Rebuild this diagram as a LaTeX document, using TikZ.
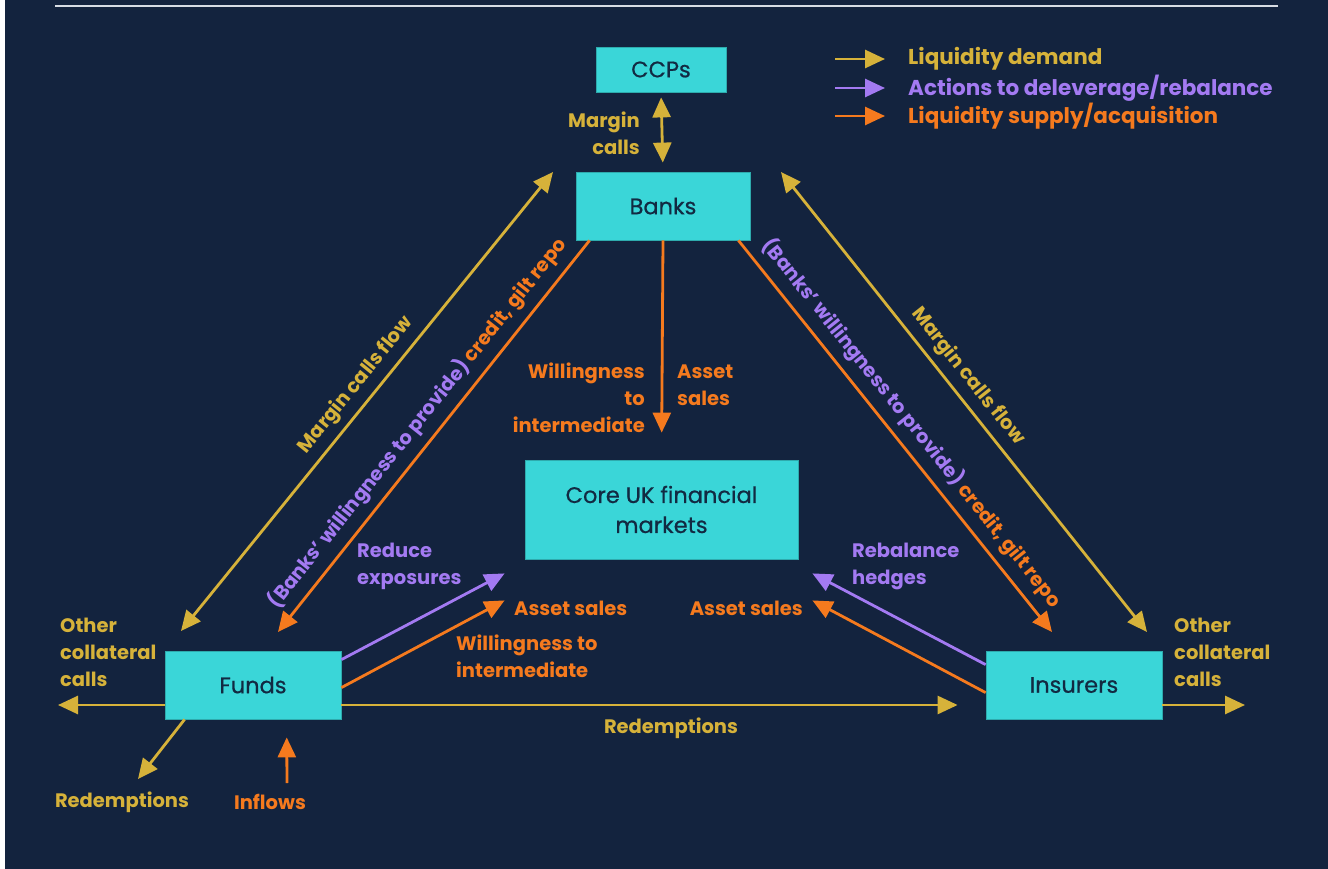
\documentclass[tikz,border=0pt]{standalone}
\usepackage{fontspec}
\setmainfont{Poppins}
\newfontfamily\boxfont[FakeBold=0.6]{Poppins}
\usetikzlibrary{arrows.meta,calc}
\definecolor{bg}{RGB}{19,35,62}
\definecolor{gold}{RGB}{214,178,58}
\definecolor{purp}{RGB}{163,122,242}
\definecolor{orng}{RGB}{245,122,30}
\definecolor{cyanbox}{RGB}{58,214,216}
\definecolor{boxtxt}{RGB}{18,42,66}
\definecolor{rule}{RGB}{215,220,228}
\begin{document}
\begin{tikzpicture}[x=1pt,y=-1pt,
  box/.style={fill=cyanbox, draw=cyanbox!80!black, line width=0.8pt, inner sep=0pt,
    text=boxtxt, font=\boxfont\fontsize{22.5}{30}\selectfont, align=center},
  arr/.style={line width=2.8pt, -{Triangle[length=20pt,width=18pt]}},
  dbl/.style={line width=2.8pt, {Triangle[length=20pt,width=18pt]}-{Triangle[length=20pt,width=18pt]}},
  lbl/.style={font=\bfseries\fontsize{19.5}{27}\selectfont, inner sep=0pt},
  leg/.style={font=\bfseries\fontsize{21.5}{26}\selectfont, inner sep=0pt, anchor=west},
]
\useasboundingbox (0,0) rectangle (1328,869);
\fill[bg] (0,0) rectangle (1328,869);
\fill[white] (0,0) rectangle (5,869);
\draw[rule, line width=2.5pt] (55,6) -- (1278,6);

% boxes
\node[box, minimum width=130pt, minimum height=45pt] (ccp) at (661,69.5) {CCPs};
\node[box, minimum width=174pt, minimum height=68pt] (banks) at (663,206) {Banks};
\node[box, minimum width=273pt, minimum height=99pt] (core) at (661.5,509.5) {Core UK financial\\markets};
\node[box, minimum width=176pt, minimum height=68pt] (funds) at (253,685) {Funds};
\node[box, minimum width=176pt, minimum height=68pt] (ins) at (1074,685) {Insurers};

% free ends
\coordinate (lyTop) at (553,172);
\coordinate (lyBot) at (181,631);
\coordinate (ryTop) at (781,172);
\coordinate (ryBot) at (1147,632);
\coordinate (loEnd) at (278,632);
\coordinate (roEnd) at (1052,632);
\coordinate (flEnd) at (58,705);
\coordinate (irEnd) at (1245,705);
\coordinate (fdEnd) at (138,779);
\coordinate (infStart) at (287,783);

% legend
\coordinate (lg1a) at (835,59);  \coordinate (lg1b) at (885,59);
\coordinate (lg2a) at (835,88);  \coordinate (lg2b) at (885,88);
\coordinate (lg3a) at (835,116); \coordinate (lg3b) at (885,116);
\draw[arr, gold] (lg1a) -- (lg1b);
\draw[arr, purp] (lg2a) -- (lg2b);
\draw[arr, orng] (lg3a) -- (lg3b);
\node[leg, text=gold] (lt1) at (908,59) {Liquidity demand};
\node[leg, text=purp] (lt2) at (908,88) {Actions to deleverage/rebalance};
\node[leg, text=orng] (lt3) at (908,116) {Liquidity supply/acquisition};

% CCP - Banks
\draw[dbl, gold, shorten <=5pt, shorten >=9pt] (ccp.south) -- (banks.north);
\node[lbl, text=gold, align=right, anchor=east] (mc) at (640,133) {Margin\\calls};

% left diagonals
\draw[dbl, gold] (lyTop) -- (lyBot)
  node[pos=0.49, sloped, above=7pt, lbl, text=gold] {Margin calls flow};
\draw[arr, orng] ($(banks.south west)+(14,0)$) -- (loEnd)
  node[pos=0.5, sloped, above=8pt, lbl, text=orng] {{\color{purp}(Banks’ willingness to provide)} credit, gilt repo};

% right diagonals
\draw[dbl, gold] (ryTop) -- (ryBot)
  node[pos=0.47, sloped, above=7pt, lbl, text=gold] {Margin calls flow};
\draw[arr, orng] ($(banks.south east)+(-12,0)$) -- (roEnd)
  node[pos=0.5, sloped, above=8pt, lbl, text=orng] {{\color{purp}(Banks’ willingness to provide)} credit, gilt repo};

% vertical banks -> core
\draw[arr, orng, shorten >=27pt] (banks.south) -- (core.north);
\node[lbl, text=orng, align=right, anchor=east] (wti1) at (645,398) {Willingness\\to\\intermediate};
\node[lbl, text=orng, align=left, anchor=west] (as1) at (677,385) {Asset\\sales};

% funds -> core
\draw[arr, purp] ($(funds.north east)+(0,9)$) -- ($(core.south west)+(-20,14)$);
\draw[arr, orng] ($(funds.north east)+(0,37)$) -- ($(core.south west)+(-20,41)$);
\node[lbl, text=purp, align=left, anchor=west] (re) at (357,566) {Reduce\\exposures};
\node[lbl, text=orng, anchor=west] (as2) at (514,608) {Asset sales};
\node[lbl, text=orng, align=left, anchor=west] (wti2) at (456,656) {Willingness to\\intermediate};

% insurers -> core
\draw[arr, purp] ($(ins.north west)+(0,14)$) -- ($(core.south east)+(14,14)$);
\draw[arr, orng] ($(ins.north west)+(0,42)$) -- ($(core.south east)+(14,41)$);
\node[lbl, text=purp, align=left, anchor=west] (rh) at (852,566) {Rebalance\\hedges};
\node[lbl, text=orng, anchor=east] (as3) at (803,608) {Asset sales};

% redemptions funds -> insurers
\draw[arr, gold, shorten >=28pt] ($(funds.east)+(0,20)$) -- ($(ins.west)+(0,20)$);
\node[lbl, text=gold] (red1) at (671,728) {Redemptions};

% outer arrows
\draw[arr, gold] ($(funds.west)+(0,20)$) -- (flEnd);
\draw[arr, gold] ($(ins.east)+(0,20)$) -- (irEnd);
\node[lbl, text=gold, align=left, anchor=west] (oc1) at (60,652) {Other\\collateral\\calls};
\node[lbl, text=gold, align=left, anchor=west] (oc2) at (1174,652) {Other\\collateral\\calls};
\draw[arr, gold] ($(funds.south west)+(20,0)$) -- (fdEnd);
\draw[arr, orng, shorten >=18pt] (infStart) -- ($(funds.south west)+(122,0)$);
\node[lbl, text=gold] (red2) at (122,802) {Redemptions};
\node[lbl, text=orng] (infl) at (270,802) {Inflows};
\end{tikzpicture}
\end{document}
